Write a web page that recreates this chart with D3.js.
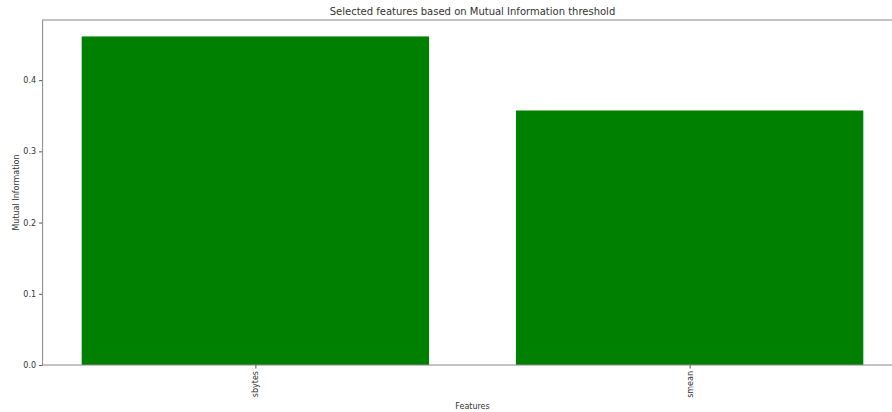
<!DOCTYPE html>
<html>
<head>
<meta charset="utf-8">
<script src="https://cdn.jsdelivr.net/npm/d3@7"></script>
<style>
  html, body { margin: 0; padding: 0; background: #fff; }
  svg { display: block; font-family: "DejaVu Sans", sans-serif; }
</style>
</head>
<body>
<svg id="chart" width="892" height="412"></svg>
<script>
// Mutual information scores of the selected features
const features = ["sbytes", "smean"];
const miScores = [0.4614, 0.3574];
const yTicks = [0.0, 0.1, 0.2, 0.3, 0.4];

const W = 892, H = 412;
const margin = { left: 42.6, top: 20, bottom: 47 };
const plotRight = 902.4;          // axes box extends past the visible page
const plotBottom = H - margin.bottom;

const svg = d3.select("#chart");

// Band positions follow a bar width of 0.8 with 5% padding on the data range
const xLin = d3.scaleLinear()
  .domain([-0.49, features.length - 1 + 0.49])
  .range([margin.left, plotRight]);
const barW = 0.8;

const yMax = d3.max(miScores) * 1.05;
const y = d3.scaleLinear().domain([0, yMax]).range([plotBottom, margin.top]);

const textColor = "#333";
const spineColor = "#888";

// Bars
svg.append("g")
  .selectAll("rect")
  .data(miScores)
  .join("rect")
  .attr("x", (d, i) => xLin(i - barW / 2))
  .attr("width", (d, i) => xLin(i + barW / 2) - xLin(i - barW / 2))
  .attr("y", d => y(d))
  .attr("height", d => y(0) - y(d))
  .attr("fill", "#008000");

// Y axis
const yAxis = d3.axisLeft(y).tickValues(yTicks).tickFormat(d3.format(".1f")).tickSize(3.5).tickPadding(3);
const gy = svg.append("g").attr("transform", `translate(${margin.left},0)`).call(yAxis);
gy.select(".domain").remove();
gy.selectAll("line").attr("stroke", "#555");
gy.selectAll("text").attr("font-size", 8).attr("fill", textColor).attr("font-family", "DejaVu Sans");

// X axis with rotated category labels
const xAxis = d3.axisBottom(xLin)
  .tickValues(features.map((f, i) => i))
  .tickFormat(i => features[i])
  .tickSize(3.5);
const gx = svg.append("g").attr("transform", `translate(0,${plotBottom})`).call(xAxis);
gx.select(".domain").remove();
gx.selectAll("line").attr("stroke", "#555");
gx.selectAll("text")
  .attr("font-size", 8)
  .attr("fill", textColor)
  .attr("font-family", "DejaVu Sans")
  .attr("transform", "rotate(-90)")
  .attr("text-anchor", "end")
  .attr("x", -6)
  .attr("y", 0)
  .attr("dy", "0.32em");

// Axes frame
svg.append("rect")
  .attr("x", margin.left)
  .attr("y", margin.top)
  .attr("width", plotRight - margin.left)
  .attr("height", plotBottom - margin.top)
  .attr("fill", "none")
  .attr("stroke", spineColor)
  .attr("stroke-width", 1);

// Title and axis labels
const cx = (margin.left + plotRight) / 2;
svg.append("text")
  .attr("x", cx).attr("y", 15)
  .attr("text-anchor", "middle")
  .attr("font-size", 10)
  .attr("fill", textColor)
  .text("Selected features based on Mutual Information threshold");

svg.append("text")
  .attr("x", cx).attr("y", 409)
  .attr("text-anchor", "middle")
  .attr("font-size", 8)
  .attr("fill", textColor)
  .text("Features");

svg.append("text")
  .attr("transform", `translate(18.5,${(margin.top + plotBottom) / 2}) rotate(-90)`)
  .attr("text-anchor", "middle")
  .attr("font-size", 8)
  .attr("fill", textColor)
  .text("Mutual Information");
</script>
</body>
</html>
